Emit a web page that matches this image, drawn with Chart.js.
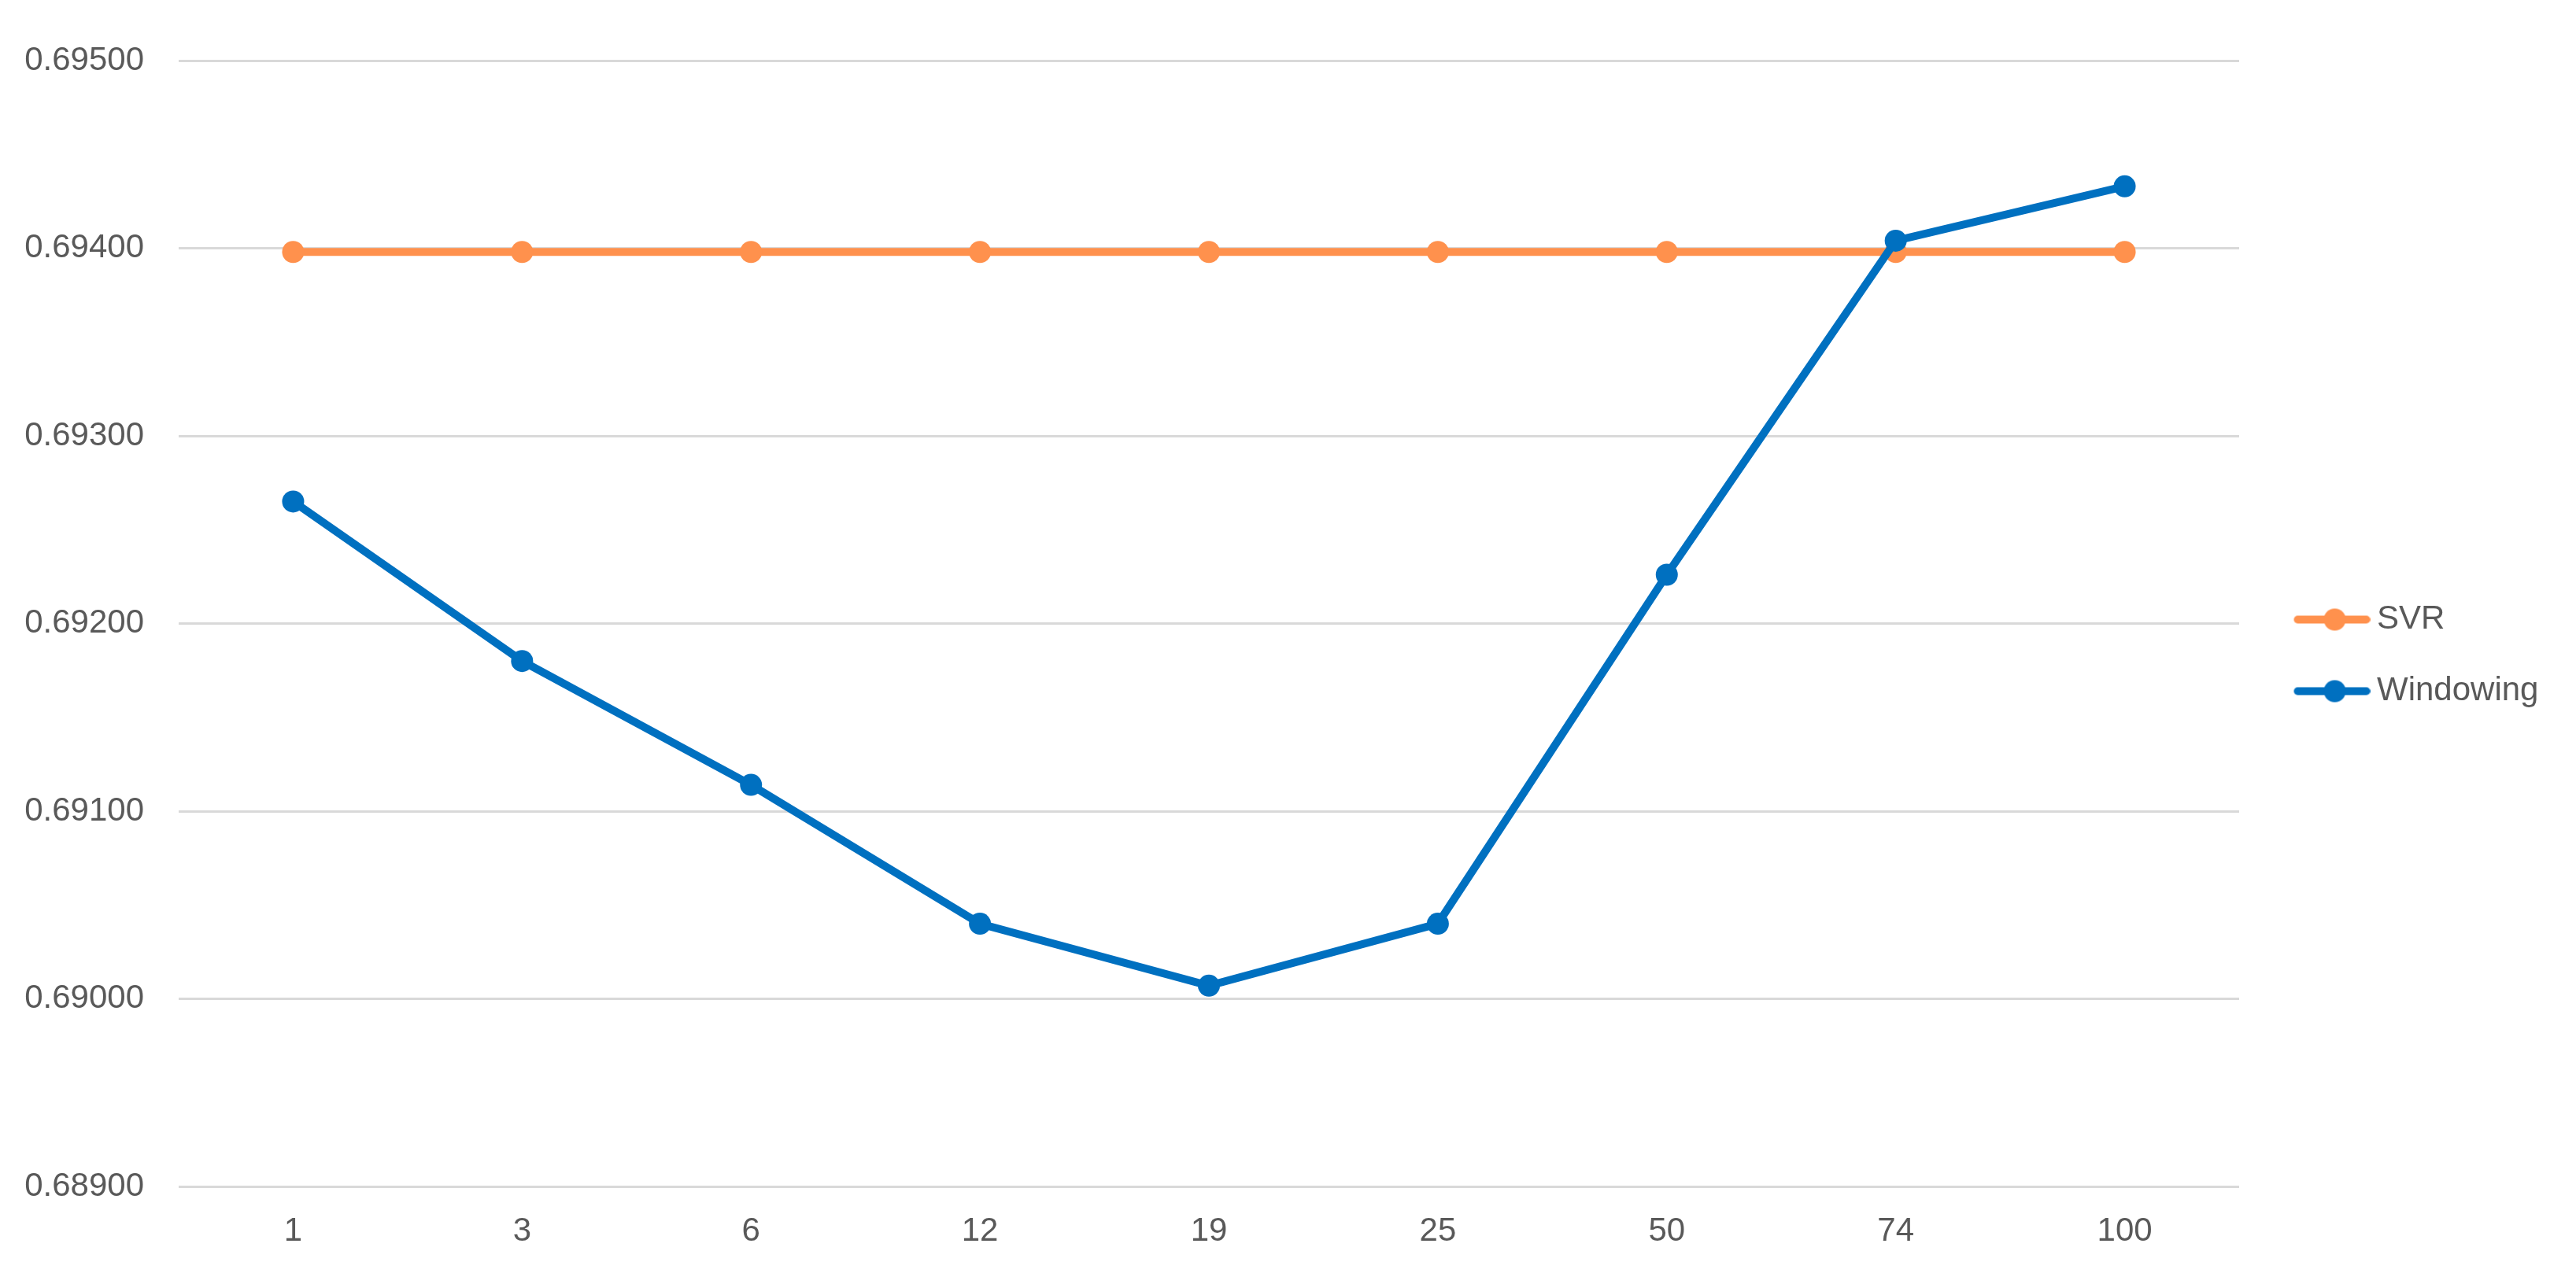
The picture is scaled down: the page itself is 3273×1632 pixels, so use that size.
<!DOCTYPE html>
<html>
<head>
<meta charset="utf-8">
<script src="https://cdn.jsdelivr.net/npm/chart.js@4/dist/chart.umd.min.js"></script>
<style>
  html, body { margin: 0; padding: 0; background: #ffffff; overflow: hidden; }
  #wrap { width: 3273px; height: 1632px; }
  canvas { display: block; }
</style>
</head>
<body>
<div id="wrap"><canvas id="c" width="3273" height="1632"></canvas></div>
<script>
const categories = ['1', '3', '6', '12', '19', '25', '50', '74', '100'];
const svrValues = [0.69398, 0.69398, 0.69398, 0.69398, 0.69398, 0.69398, 0.69398, 0.69398, 0.69398];
const windowingValues = [0.69265, 0.69180, 0.69114, 0.69040, 0.69007, 0.69040, 0.69226, 0.69404, 0.69433];
const seriesNames = ['SVR', 'Windowing'];
const yMin = 0.689, yMax = 0.695, yStep = 0.001;

const ORANGE = '#FF914D';
const BLUE = '#0070C0';
const TEXT = '#595959';
const GRID = '#D9D9D9';
const FONT = "'Liberation Sans', Arial, sans-serif";

function legendSymbol(color) {
  const c = document.createElement('canvas');
  c.width = 130; c.height = 32;
  const g = c.getContext('2d');
  g.strokeStyle = color;
  g.lineWidth = 10;
  g.lineCap = 'round';
  g.beginPath();
  g.moveTo(38, 16);
  g.lineTo(125, 16);
  g.stroke();
  g.fillStyle = color;
  g.beginPath();
  g.arc(85, 16, 14, 0, Math.PI * 2);
  g.fill();
  return c;
}

const symbols = [legendSymbol(ORANGE), legendSymbol(BLUE)];

// Fix the legend box width so that the plot area ends where the reference's does.
const legendWidthFix = {
  id: 'legendWidthFix',
  afterInit(chart) {
    const lg = chart.legend;
    if (!lg) return;
    const origFit = lg.fit;
    lg.fit = function () {
      origFit.call(this);
      this.width = 428;
    };
  }
};

new Chart(document.getElementById('c'), {
  type: 'line',
  data: {
    labels: categories,
    datasets: [
      {
        label: seriesNames[0],
        data: svrValues,
        borderColor: ORANGE,
        backgroundColor: ORANGE,
        borderWidth: 10,
        pointRadius: 14,
        pointHoverRadius: 14,
        pointBorderWidth: 0,
        pointBackgroundColor: ORANGE,
        tension: 0,
        order: 2
      },
      {
        label: seriesNames[1],
        data: windowingValues,
        borderColor: BLUE,
        backgroundColor: BLUE,
        borderWidth: 10,
        pointRadius: 14,
        pointHoverRadius: 14,
        pointBorderWidth: 0,
        pointBackgroundColor: BLUE,
        tension: 0,
        order: 1
      }
    ]
  },
  options: {
    responsive: false,
    animation: false,
    devicePixelRatio: 1,
    layout: { padding: { left: 31, top: 77, bottom: 43, right: 0 } },
    plugins: {
      tooltip: { enabled: false },
      legend: {
        position: 'right',
        align: 'center',
        labels: {
          usePointStyle: true,
          pointStyleWidth: 105,
          padding: 49,
          color: TEXT,
          font: { family: FONT, size: 42 },
          sort: (a, b) => a.datasetIndex - b.datasetIndex,
          generateLabels: (chart) => chart.data.datasets.map((ds, i) => ({
            text: ds.label,
            datasetIndex: i,
            pointStyle: symbols[i],
            fillStyle: ds.borderColor,
            strokeStyle: ds.borderColor,
            lineWidth: 0,
            hidden: false,
            fontColor: TEXT
          }))
        }
      }
    },
    scales: {
      x: {
        offset: true,
        grid: { display: false, drawTicks: false },
        border: { display: false },
        ticks: { color: TEXT, font: { family: FONT, size: 42 }, padding: 32, maxRotation: 0 },
        afterFit: (scale) => { scale.height = 81; }
      },
      y: {
        min: yMin,
        max: yMax,
        grid: { color: GRID, lineWidth: 3, drawTicks: false },
        border: { display: false },
        ticks: {
          stepSize: yStep,
          color: TEXT,
          font: { family: FONT, size: 42 },
          padding: 44,
          callback: (v) => Number(v).toFixed(5)
        },
        afterFit: (scale) => { scale.width = 196; }
      }
    }
  },
  plugins: [legendWidthFix]
});
</script>
</body>
</html>
